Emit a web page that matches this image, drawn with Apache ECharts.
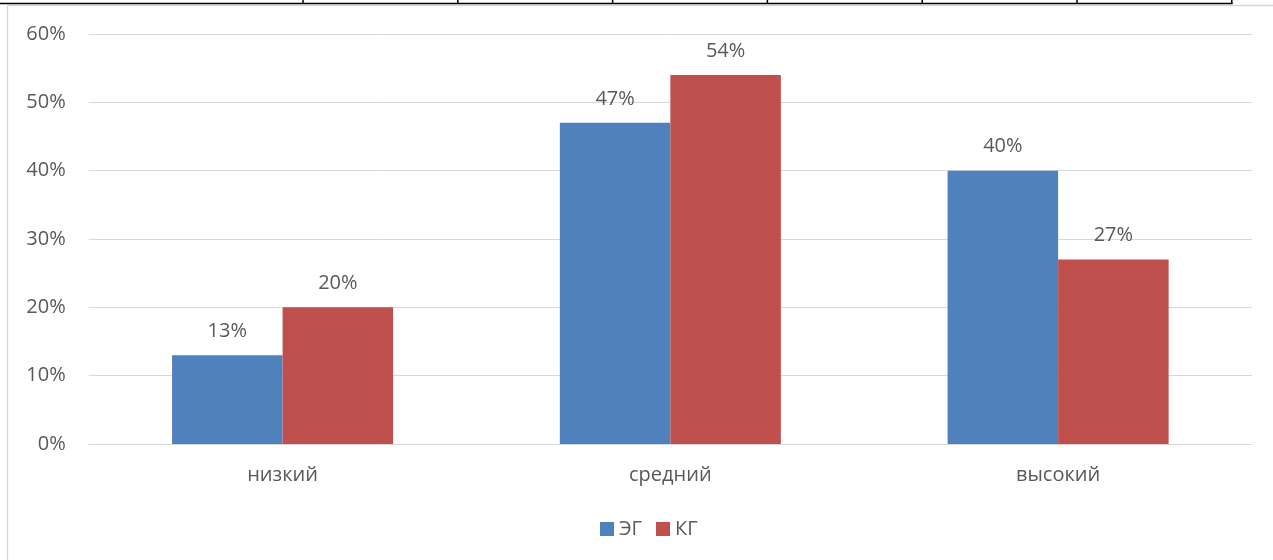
<!DOCTYPE html>
<html>
<head>
<meta charset="utf-8">
<script src="https://cdn.jsdelivr.net/npm/echarts@6/dist/echarts.min.js"></script>
<style>
html,body{margin:0;padding:0;background:#fff;}
#chart{width:1273px;height:560px;}
</style>
</head>
<body>
<div id="chart"></div>
<script>
const categories = ['низкий', 'средний', 'высокий'];
const seriesNames = ['ЭГ', 'КГ'];
const valuesEG = [13, 47, 40];
const valuesKG = [20, 54, 27];
const yTicks = [0, 10, 20, 30, 40, 50, 60];

const FONT = '"Open Sans", "Noto Sans", sans-serif';
const TXT = '#595959';

const chart = echarts.init(document.getElementById('chart'), null, {renderer: 'canvas'});

// decorative frame pieces (table border above, chart area border)
const tickXs = [303, 457.8, 612.6, 767.4, 922.2, 1077, 1231.8];
const graphics = [
  {type: 'line', shape: {x1: 7.5, y1: 5.5, x2: 1273, y2: 5.5}, style: {stroke: '#D9D9D9', lineWidth: 1.5}, silent: true},
  {type: 'line', shape: {x1: 7.5, y1: 5.5, x2: 7.5, y2: 560}, style: {stroke: '#D9D9D9', lineWidth: 1.5}, silent: true},
  {type: 'line', shape: {x1: 0, y1: 3.5, x2: 1232.5, y2: 3.5}, style: {stroke: '#000', lineWidth: 1.5}, silent: true}
];
tickXs.forEach(x => graphics.push({type: 'line', shape: {x1: x, y1: 0, x2: x, y2: 4}, style: {stroke: '#000', lineWidth: 1.5}, silent: true}));

const labelCfg = {
  show: true, position: 'top', distance: 14,
  formatter: p => p.value + '%',
  color: TXT, fontFamily: FONT, fontSize: 20
};

chart.setOption({
  animation: false,
  backgroundColor: '#fff',
  textStyle: {fontFamily: FONT},
  graphic: graphics,
  legend: {
    data: seriesNames,
    top: 514,
    left: 595,
    itemWidth: 14, itemHeight: 14, itemGap: 14,
    icon: 'rect',
    textStyle: {color: TXT, fontFamily: FONT, fontSize: 20}
  },
  grid: {left: 88.7, right: 21, top: 34, bottom: 116, containLabel: false},
  xAxis: {
    type: 'category',
    data: categories,
    axisLine: {show: true, lineStyle: {color: '#D9D9D9', width: 1}},
    axisTick: {show: false},
    axisLabel: {color: TXT, fontFamily: FONT, fontSize: 20, margin: 21}
  },
  yAxis: {
    type: 'value',
    min: yTicks[0], max: yTicks[yTicks.length - 1], interval: 10,
    axisLine: {show: false},
    axisTick: {show: false},
    splitLine: {lineStyle: {color: '#D9D9D9', width: 1}},
    axisLabel: {color: TXT, fontFamily: FONT, fontSize: 20, margin: 23, formatter: v => v + '%'}
  },
  series: [
    {name: seriesNames[0], type: 'bar', data: valuesEG, itemStyle: {color: '#4F81BD'},
     barGap: '0%', barCategoryGap: '43%', label: labelCfg},
    {name: seriesNames[1], type: 'bar', data: valuesKG, itemStyle: {color: '#C0504D'},
     barGap: '0%', barCategoryGap: '43%', label: labelCfg}
  ]
});
</script>
</body>
</html>
